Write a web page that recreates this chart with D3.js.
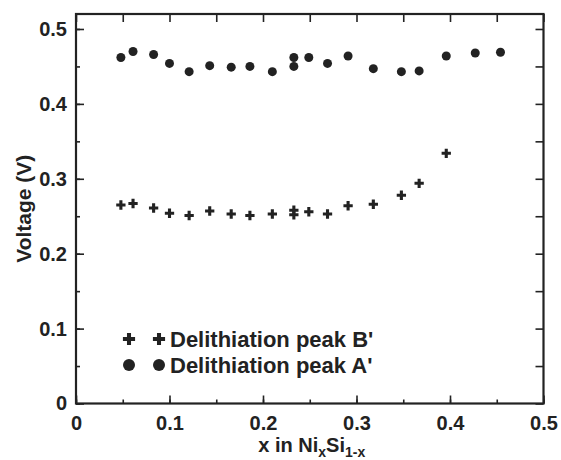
<!DOCTYPE html>
<html>
<head>
<meta charset="utf-8">
<script src="https://cdn.jsdelivr.net/npm/d3@7"></script>
<style>
  body { margin: 0; background: #fff; }
  text { font-family: "Liberation Sans", Arial, sans-serif; font-weight: bold; fill: #222; }
</style>
</head>
<body>
<div id="chart"></div>
<script>
// composition x (shared by both peaks)
var xValues = [0.048, 0.061, 0.083, 0.100, 0.121, 0.143, 0.166, 0.186, 0.210, 0.233,
               0.233, 0.249, 0.269, 0.291, 0.318, 0.348, 0.367, 0.396, 0.427, 0.454];
// Delithiation peak A' (V)
var peakA = [0.462, 0.470, 0.466, 0.454, 0.443, 0.451, 0.449, 0.450, 0.443, 0.462,
             0.450, 0.462, 0.454, 0.464, 0.447, 0.443, 0.444, 0.464, 0.468, 0.469];
// Delithiation peak B' (V), measured only up to x = 0.4
var peakB = [0.265, 0.267, 0.261, 0.254, 0.251, 0.257, 0.253, 0.251, 0.253, 0.258,
             0.252, 0.256, 0.253, 0.264, 0.266, 0.278, 0.294, 0.334];

var xTicks = [0, 0.1, 0.2, 0.3, 0.4, 0.5];
var yTicks = [0, 0.1, 0.2, 0.3, 0.4, 0.5];
var legendLabels = ["Delithiation peak B'", "Delithiation peak A'"];

var margin = { top: 14, right: 17.5, bottom: 56.5, left: 76 },
    width = 561 - margin.left - margin.right,
    height = 460 - margin.top - margin.bottom;

var ink = "#222";

var svg = d3.select("#chart")
    .append("svg")
    .attr("width", 561)
    .attr("height", 460)
    .append("g")
    .attr("transform", "translate(" + margin.left + "," + margin.top + ")");

var x = d3.scaleLinear().domain([0, 0.5]).range([0, width]);
var y = d3.scaleLinear().domain([0, 0.52]).range([height, 0]);

var minorX = d3.range(0, 0.501, 0.05);
var minorY = d3.range(0, 0.521, 0.05);

function styleAxis(g) {
    g.select(".domain").remove();
    g.selectAll(".tick line").attr("stroke", ink).attr("stroke-width", 1.6);
    g.selectAll(".tick text").style("font-size", "20px");
}

// minor ticks bottom / left
svg.append("g")
    .attr("transform", "translate(0," + height + ")")
    .call(d3.axisBottom(x).tickValues(minorX).tickSize(-4).tickFormat(""))
    .call(styleAxis);
svg.append("g")
    .call(d3.axisLeft(y).tickValues(minorY).tickSize(-4).tickFormat(""))
    .call(styleAxis);

// major ticks with labels
svg.append("g")
    .attr("transform", "translate(0," + height + ")")
    .call(d3.axisBottom(x).tickValues(xTicks).tickSize(-8).tickPadding(12)
        .tickFormat(function (d) { return d === 0 ? "0" : d3.format(".1f")(d); }))
    .call(styleAxis);
svg.append("g")
    .call(d3.axisLeft(y).tickValues(yTicks).tickSize(-8).tickPadding(9)
        .tickFormat(function (d) { return d === 0 ? "0" : d3.format(".1f")(d); }))
    .call(styleAxis);

// top and right ticks
svg.append("g")
    .call(d3.axisTop(x).tickValues(minorX).tickSize(-8).tickFormat(""))
    .call(styleAxis);
svg.append("g")
    .attr("transform", "translate(" + width + ",0)")
    .call(d3.axisRight(y).tickValues(minorY).tickSize(-8).tickFormat(""))
    .call(styleAxis);

// frame
svg.append("rect")
    .attr("width", width)
    .attr("height", height)
    .attr("fill", "none")
    .attr("stroke", ink)
    .attr("stroke-width", 2.2);

// peak A' circles
svg.append("g")
    .selectAll("circle")
    .data(peakA)
    .enter().append("circle")
    .attr("cx", function (d, i) { return x(xValues[i]); })
    .attr("cy", function (d) { return y(d); })
    .attr("r", 4.5)
    .attr("fill", ink);

// peak B' crosses
var cross = d3.symbol().type(d3.symbolCross).size(48);
svg.append("g")
    .selectAll("path")
    .data(peakB)
    .enter().append("path")
    .attr("d", cross)
    .attr("transform", function (d, i) { return "translate(" + x(xValues[i]) + "," + y(d) + ")"; })
    .attr("fill", ink);

// legend
var legend = svg.append("g").attr("transform", "translate(53,325)");
var legendCross = d3.symbol().type(d3.symbolCross).size(82);
legend.selectAll("g.item")
    .data(legendLabels)
    .enter().append("g")
    .attr("class", "item")
    .attr("transform", function (d, i) { return "translate(0," + i * 26 + ")"; })
    .each(function (d, i) {
        var g = d3.select(this);
        [0, 30].forEach(function (dx) {
            if (i === 0) {
                g.append("path").attr("d", legendCross).attr("transform", "translate(" + dx + ",0)").attr("fill", ink);
            } else {
                g.append("circle").attr("cx", dx).attr("r", 6).attr("fill", ink);
            }
        });
        g.append("text")
            .attr("x", 41)
            .attr("dy", "0.35em")
            .style("font-size", "22px")
            .text(d);
    });

// X axis label
var xl = svg.append("text")
    .attr("text-anchor", "middle")
    .attr("x", width / 2 + 2)
    .attr("y", height + 48)
    .style("font-size", "20px");
xl.append("tspan").text("x in Ni");
xl.append("tspan").text("x").attr("dy", 5).style("font-size", "14px");
xl.append("tspan").text("Si").attr("dy", -5);
xl.append("tspan").text("1-x").attr("dy", 5).style("font-size", "14px");

// Y axis label
svg.append("text")
    .attr("text-anchor", "middle")
    .attr("transform", "translate(" + (-margin.left + 31) + "," + (height / 2) + ") rotate(-90)")
    .style("font-size", "21px")
    .text("Voltage (V)");
</script>
</body>
</html>
